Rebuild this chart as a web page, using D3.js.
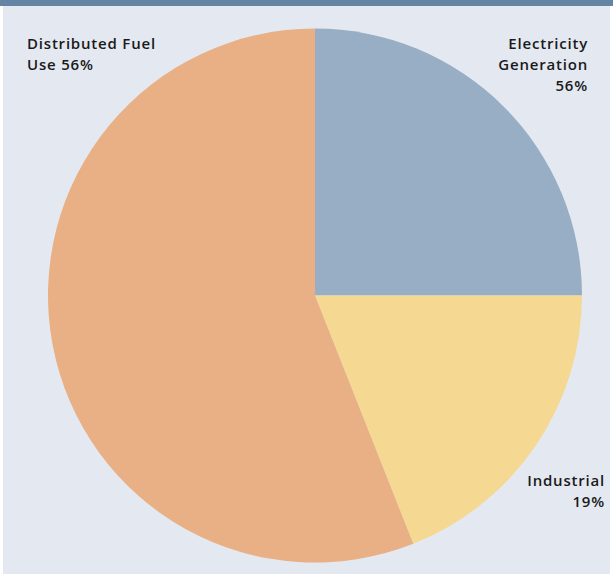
<!DOCTYPE html>
<html>
<head>
<meta charset="utf-8">
<script src="https://cdn.jsdelivr.net/npm/d3@7/dist/d3.min.js"></script>
<style>
  html, body { margin: 0; padding: 0; background: #ffffff; }
  svg { display: block; }
</style>
</head>
<body>
<svg id="chart" width="613" height="575"></svg>
<script>
// Fuel use shares, clockwise from 12 o'clock
const categories = ["Electricity Generation", "Industrial", "Distributed Fuel Use"];
const shares = [25, 19, 56];
const colors = ["#97aec5", "#f5d993", "#e8b084"];
// Printed label lines for each slice (as published)
const labelLines = [
  ["Electricity", "Generation", "56%"],
  ["Industrial", "19%"],
  ["Distributed Fuel", "Use 56%"]
];

const W = 613, H = 575;
const svg = d3.select("#chart");

// panel background and header rule
svg.append("rect").attr("x", 3).attr("y", 0).attr("width", W - 6).attr("height", 574).attr("fill", "#e4e9f1");
svg.append("rect").attr("x", 0).attr("y", 0).attr("width", W).attr("height", 6).attr("fill", "#6384a5");

const cx = 315, cy = 295.5, r = 267;
const data = categories.map((c, i) => ({ name: c, value: shares[i], color: colors[i], lines: labelLines[i] }));

const pie = d3.pie().value(d => d.value).sort(null);
const arc = d3.arc().innerRadius(0).outerRadius(r);

svg.append("g")
  .attr("transform", `translate(${cx},${cy})`)
  .selectAll("path")
  .data(pie(data))
  .join("path")
  .attr("d", arc)
  .attr("fill", d => d.data.color);

// slice labels placed in the panel corners
const labelPos = [
  { x: 588, y: 49.3, anchor: "end" },
  { x: 605, y: 485.7, anchor: "end" },
  { x: 27, y: 48.8, anchor: "start" }
];

const lbl = svg.append("g")
  .attr("font-family", "'Open Sans', Lato, sans-serif")
  .attr("font-size", 15)
  .attr("font-weight", 600)
  .attr("letter-spacing", "0.8px")
  .attr("fill", "#1a1a1a");

data.forEach((d, i) => {
  const p = labelPos[i];
  const t = lbl.append("text").attr("text-anchor", p.anchor);
  d.lines.forEach((line, j) => {
    t.append("tspan").attr("x", p.x).attr("y", p.y + j * 20.8).text(line);
  });
});
</script>
</body>
</html>
